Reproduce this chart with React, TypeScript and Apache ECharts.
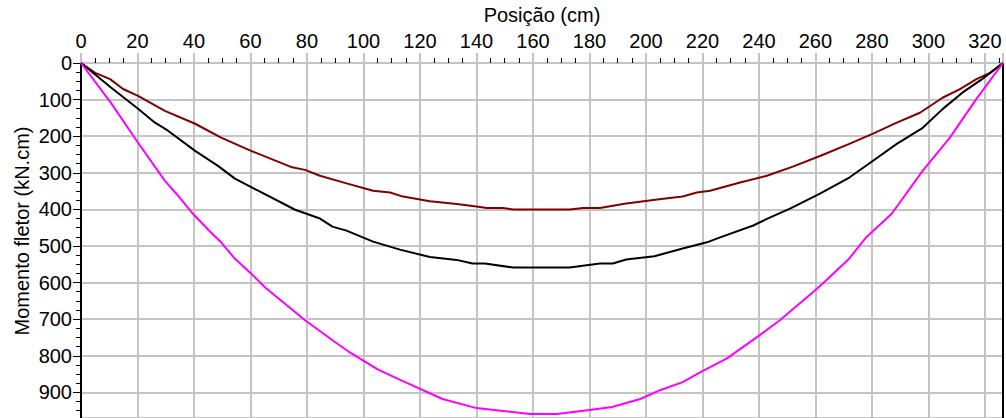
import React, { useEffect, useRef } from "react";
import * as echarts from "echarts";

// Dark red curve (Posição cm, Momento kN.cm)
const redX = [0, 5, 10.3, 14.9, 20.2, 29.7, 40.4, 49.6, 60.2, 74.3, 79.3, 84.6, 94, 103.4, 109.4, 114, 123.5, 133, 140, 143.7, 149.4, 153, 173, 177.7, 183.7, 193, 204, 213, 218, 222.7, 233, 242.8, 252, 261.6, 272, 280.4, 288.8, 297, 305, 311, 317, 321.8, 326.4];
const redY = [0, 27, 44, 71, 90, 131, 166, 204, 240, 284, 292, 308, 329, 349, 354, 365, 378, 385, 392, 396, 396, 400, 400, 396, 396, 384, 373, 365, 354, 349, 327, 308, 283, 254, 221, 193, 163, 136, 95, 72, 44, 27, 0];

// Black curve
const blackX = [0, 3.5, 10.6, 20.2, 26.2, 30.8, 40.4, 48.5, 54.5, 62.7, 75.8, 84.6, 89, 94, 103.4, 112.9, 123.5, 133, 138.6, 143, 153, 173, 183.7, 188.3, 193, 203, 213, 221.6, 226, 238, 242.8, 251, 261.6, 272, 280.4, 288.8, 298, 305, 312, 319, 326.4];
const blackY = [0, 22, 67, 125, 163, 185, 240, 281, 316, 349, 401, 425, 447, 458, 488, 510, 530, 538, 548, 548, 559, 559, 548, 548, 537, 528, 507, 490, 477, 444, 426, 398, 357, 313, 267, 221, 177, 126, 81, 44, 0];

// Magenta curve
const magX = [0, 10.6, 20.2, 29.7, 34.3, 39.6, 46, 49.6, 54.5, 60.2, 65, 79.3, 90, 95.6, 105, 113, 128, 140, 159, 168.5, 180, 188, 198, 205, 213, 219, 228.7, 239.3, 247.4, 259, 262.7, 272, 278, 287, 298, 307.6, 317, 326.4];
const magY = [0, 109, 218, 322, 362, 412, 463, 490, 535, 575, 612, 703, 763, 793, 837, 866, 918, 943, 959, 959, 948, 940, 918, 894, 872, 846, 807, 749, 703, 627, 602, 534, 476, 412, 294, 204, 98, 0];

const xTitle = "Posição (cm)";
const yTitle = "Momento fletor (kN.cm)";
const xMax = 326.4;
const yMax = 970;

const zip = (xs: number[], ys: number[]) => xs.map((x, i) => [x, ys[i]]);

const FONT = "'Liberation Sans', Arial, sans-serif";

export default function App() {
  const ref = useRef<HTMLDivElement>(null);
  useEffect(() => {
    if (!ref.current) return;
    const chart = echarts.init(ref.current, undefined, { renderer: "svg" });
    const gridColor = "#c4c4c4";
    chart.setOption({
      animation: false,
      backgroundColor: "#ffffff",
      textStyle: { fontFamily: FONT },
      grid: { left: 81, right: 3, top: 62, bottom: 0, containLabel: false },
      xAxis: {
        type: "value",
        position: "top",
        min: 0,
        max: xMax,
        interval: 20,
        name: xTitle,
        nameLocation: "middle",
        nameGap: 38,
        nameTextStyle: { fontSize: 20, color: "#000", fontFamily: FONT },
        axisLine: { show: true, lineStyle: { color: gridColor, width: 2 } },
        axisTick: { show: true, inside: false, length: 10, lineStyle: { color: gridColor, width: 2 } },
        minorTick: { show: true, splitNumber: 4, length: 5, lineStyle: { color: "#000", width: 1 } },
        axisLabel: {
          fontSize: 20,
          color: "#000",
          margin: 12,
          fontFamily: FONT,
          formatter: (v: number) => (v % 20 === 0 ? String(v) : ""),
        },
        splitLine: { show: true, lineStyle: { color: gridColor, width: 2 } },
      },
      yAxis: [
        {
          type: "value",
          inverse: true,
          min: 0,
          max: yMax,
          interval: 100,
          axisLine: { show: true, lineStyle: { color: "#000", width: 2 } },
          axisTick: { show: true, inside: false, length: 8, lineStyle: { color: "#000", width: 1 } },
          minorTick: { show: true, splitNumber: 4, length: 5, lineStyle: { color: "#000", width: 1 } },
          axisLabel: {
            fontSize: 20,
            color: "#000",
            margin: 9,
            fontFamily: FONT,
            formatter: (v: number) => (v % 100 === 0 ? String(v) : ""),
          },
          splitLine: { show: true, lineStyle: { color: gridColor, width: 2 } },
        },
        {
          type: "value",
          inverse: true,
          position: "right",
          min: 0,
          max: yMax,
          interval: 100,
          axisLine: { show: true, onZero: false, lineStyle: { color: "#000", width: 2 } },
          axisTick: { show: false },
          axisLabel: { show: false },
          splitLine: { show: false },
        },
      ],
      graphic: [
        {
          type: "text",
          x: 22,
          y: 231,
          rotation: Math.PI / 2,
          style: {
            text: yTitle,
            fontSize: 20,
            fontFamily: FONT,
            fill: "#000",
            align: "center",
            verticalAlign: "middle",
          },
        },
      ],
      series: [
        {
          type: "line",
          data: zip(redX, redY),
          showSymbol: false,
          lineStyle: { color: "#800000", width: 2 },
          itemStyle: { color: "#800000" },
        },
        {
          type: "line",
          data: zip(blackX, blackY),
          showSymbol: false,
          lineStyle: { color: "#000000", width: 2 },
          itemStyle: { color: "#000000" },
        },
        {
          type: "line",
          data: zip(magX, magY),
          showSymbol: false,
          lineStyle: { color: "#ff00ff", width: 2 },
          itemStyle: { color: "#ff00ff" },
        },
      ],
    });
    return () => chart.dispose();
  }, []);
  return (
    <div
      ref={ref}
      style={{ position: "absolute", left: 0, top: 0, width: 1006, height: 418, background: "#fff" }}
    />
  );
}
